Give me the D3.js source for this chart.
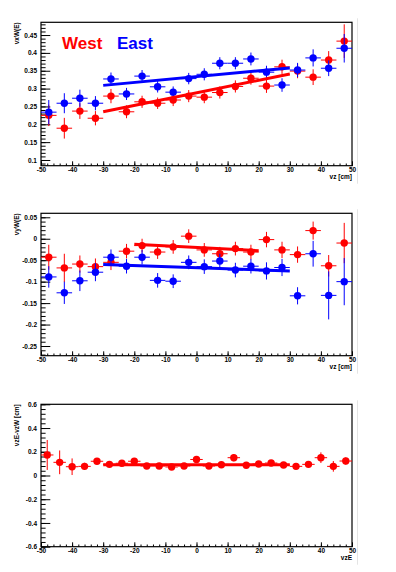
<!DOCTYPE html>
<html>
<head>
<meta charset="utf-8">
<script src="https://cdn.jsdelivr.net/npm/d3@7"></script>
<style>
  body { margin: 0; background: #fff; }
  text { font-family: 'Liberation Sans', Arial, Helvetica, sans-serif; }
</style>
</head>
<body>
<div id="chart"></div>
<script>
const width = 396;
const height = 572;
const left = 41, right = 352;

// bin centres (cm)
const vzBins = [-47.5, -42.5, -37.5, -32.5, -27.5, -22.5, -17.5, -12.5, -7.5, -2.5,
                2.5, 7.5, 12.5, 17.5, 22.5, 27.5, 32.5, 37.5, 42.5, 47.5];
const vzeBins = [-48, -44, -40, -36, -32, -28, -24, -20, -16, -12, -8, -4, 0,
                 4, 8, 12, 16, 20, 24, 28, 32, 36, 40, 44, 48];

// panel 1 : vx
const westVx = [0.225, 0.189, 0.237, 0.217, 0.279, 0.235, 0.263, 0.259, 0.268, 0.279,
                0.276, 0.289, 0.306, 0.329, 0.307, 0.361, 0.349, 0.332, 0.380, 0.433];
const westVxErr = [0.030, 0.029, 0.022, 0.020, 0.020, 0.018, 0.017, 0.016, 0.017, 0.017,
                   0.017, 0.017, 0.017, 0.018, 0.019, 0.020, 0.020, 0.022, 0.025, 0.047];
const eastVx = [0.234, 0.259, 0.273, 0.259, 0.327, 0.285, 0.335, 0.305, 0.290, 0.328,
                0.340, 0.371, 0.371, 0.383, 0.346, 0.310, 0.352, 0.386, 0.357, 0.413];
const eastVxErr = [0.034, 0.028, 0.024, 0.020, 0.018, 0.017, 0.017, 0.016, 0.016, 0.016,
                   0.017, 0.017, 0.017, 0.018, 0.018, 0.019, 0.020, 0.024, 0.022, 0.040];
const westVxFit = [[-30, 0.235], [30, 0.341]];
const eastVxFit = [[-30, 0.309], [30, 0.358]];

// panel 2 : vy
const westVy = [-0.043, -0.068, -0.059, -0.065, -0.055, -0.029, -0.016, -0.031, -0.019, 0.006,
                -0.026, -0.035, -0.023, -0.031, -0.002, -0.026, -0.037, 0.019, -0.063, -0.010];
const westVyErr = [0.029, 0.033, 0.020, 0.019, 0.018, 0.017, 0.016, 0.016, 0.016, 0.016,
                   0.016, 0.016, 0.016, 0.017, 0.018, 0.019, 0.019, 0.021, 0.025, 0.047];
const eastVy = [-0.089, -0.126, -0.098, -0.078, -0.043, -0.064, -0.043, -0.097, -0.099, -0.055,
                -0.065, -0.052, -0.073, -0.064, -0.075, -0.067, -0.133, -0.035, -0.132, -0.100];
const eastVyErr = [0.025, 0.026, 0.024, 0.021, 0.018, 0.017, 0.017, 0.017, 0.016, 0.016,
                   0.017, 0.017, 0.017, 0.017, 0.020, 0.020, 0.020, 0.030, 0.056, 0.055];
const westVyFit = [[-20, -0.013], [20, -0.028]];
const eastVyFit = [[-30, -0.060], [30, -0.075]];

// panel 3 : vzE - vzW
const dVz = [0.173, 0.111, 0.074, 0.077, 0.120, 0.094, 0.103, 0.120, 0.080, 0.080, 0.072, 0.080, 0.135,
             0.080, 0.091, 0.150, 0.086, 0.097, 0.105, 0.088, 0.077, 0.094, 0.150, 0.077, 0.122];
const dVzErr = [0.126, 0.100, 0.070, 0.030, 0.025, 0.022, 0.022, 0.022, 0.020, 0.020, 0.020, 0.020, 0.022,
                0.020, 0.020, 0.030, 0.020, 0.020, 0.022, 0.022, 0.024, 0.026, 0.045, 0.045, 0.030];
const dVzFit = [[-30, 0.091], [30, 0.091]];

const xTicks = [-50, -40, -30, -20, -10, 0, 10, 20, 30, 40, 50];
const vxTicks = [0.1, 0.15, 0.2, 0.25, 0.3, 0.35, 0.4, 0.45];
const vyTicks = [-0.25, -0.2, -0.15, -0.1, -0.05, 0, 0.05];
const dzTicks = [-0.6, -0.4, -0.2, 0, 0.2, 0.4, 0.6];

const red = '#ff0000';
const blue = '#0000ff';

const svg = d3.select('#chart').append('svg')
    .attr('width', width)
    .attr('height', height);
svg.append('rect').attr('width', width).attr('height', height).attr('fill', '#fff');

const xScale = d3.scaleLinear().domain([-50, 50]).range([left, right]);

function drawPanel(p) {
    const yScale = d3.scaleLinear().domain(p.domain).range([p.bottom, p.top]);
    const g = svg.append('g');

    g.append('line')
        .attr('x1', 357.5).attr('x2', 357.5)
        .attr('y1', p.top - 4).attr('y2', p.bottom + 18)
        .attr('stroke', '#e4e4e4');

    // minor ticks
    g.append('g').attr('transform', `translate(0,${p.bottom})`)
        .call(d3.axisBottom(xScale).tickValues(d3.range(-50, 51, 2)).tickSize(-2.2).tickFormat(''))
        .call(a => a.select('.domain').remove());
    g.append('g').attr('transform', `translate(${left},0)`)
        .call(d3.axisLeft(yScale).tickValues(d3.range(0, p.nMinor + 1).map(i => p.domainMinor + i * p.minorStep)
                .filter(v => v >= p.domain[0] - 1e-9 && v <= p.domain[1] + 1e-9))
            .tickSize(-4.6).tickFormat(''))
        .call(a => a.select('.domain').remove());

    // major ticks + labels
    g.append('g').attr('transform', `translate(0,${p.bottom})`)
        .call(d3.axisBottom(xScale).tickValues(xTicks).tickSize(-4.4).tickSizeOuter(0).tickPadding(1.5)
            .tickFormat(d => String(d)))
        .call(a => a.select('.domain').remove())
        .call(a => a.selectAll('text').attr('font-size', '6.5px').attr('font-weight', 'bold')
            .attr('font-family', 'Liberation Sans, Arial, sans-serif').attr('fill', '#000'));
    g.append('g').attr('transform', `translate(${left},0)`)
        .call(d3.axisLeft(yScale).tickValues(p.ticks).tickSize(-9.3).tickSizeOuter(0).tickPadding(4)
            .tickFormat(d => String(d)))
        .call(a => a.select('.domain').remove())
        .call(a => a.selectAll('text').attr('font-size', '6.5px').attr('font-weight', 'bold')
            .attr('font-family', 'Liberation Sans, Arial, sans-serif').attr('fill', '#000'));
    g.selectAll('.tick line').attr('stroke', '#000');

    g.append('rect')
        .attr('x', left).attr('y', p.top)
        .attr('width', right - left).attr('height', p.bottom - p.top)
        .attr('fill', 'none').attr('stroke', '#000').attr('stroke-width', 1.2);

    g.append('text')
        .attr('x', right).attr('y', p.bottom + 13.5)
        .attr('text-anchor', 'end')
        .attr('font-size', '6.5px').attr('font-weight', 'bold')
        .text(p.xLabel);

    g.append('text')
        .attr('transform', `translate(19,${p.top}) rotate(-90)`)
        .attr('text-anchor', 'end')
        .attr('font-size', '6.5px').attr('font-weight', 'bold')
        .text(p.yLabel);

    p.series.forEach(s => {
        const pts = s.bins.map((b, i) => ({x: b, y: s.values[i], e: s.errors[i]}));
        const sg = g.append('g');
        sg.selectAll('.ex').data(pts).join('line')
            .attr('x1', d => xScale(d.x - s.halfWidth)).attr('x2', d => xScale(d.x + s.halfWidth))
            .attr('y1', d => yScale(d.y)).attr('y2', d => yScale(d.y))
            .attr('stroke', s.color).attr('stroke-width', 1);
        sg.selectAll('.ey').data(pts).join('line')
            .attr('x1', d => xScale(d.x)).attr('x2', d => xScale(d.x))
            .attr('y1', d => yScale(d.y - d.e)).attr('y2', d => yScale(d.y + d.e))
            .attr('stroke', s.color).attr('stroke-width', 1);
        sg.selectAll('circle').data(pts).join('circle')
            .attr('cx', d => xScale(d.x)).attr('cy', d => yScale(d.y))
            .attr('r', 3.7).attr('fill', s.color);
    });

    p.fits.forEach(f => {
        g.append('path')
            .datum(f.points)
            .attr('fill', 'none')
            .attr('stroke', f.color)
            .attr('stroke-width', 3)
            .attr('d', d3.line().x(d => xScale(d[0])).y(d => yScale(d[1])));
    });
}

drawPanel({
    top: 22.3, bottom: 165.7, domain: [0.084, 0.4857], ticks: vxTicks,
    domainMinor: 0.08, minorStep: 0.01, nMinor: 41,
    xLabel: 'vz [cm]', yLabel: 'vxW(E)',
    series: [
        {bins: vzBins, values: westVx, errors: westVxErr, color: red, halfWidth: 2.5},
        {bins: vzBins, values: eastVx, errors: eastVxErr, color: blue, halfWidth: 2.5}
    ],
    fits: [{points: westVxFit, color: red}, {points: eastVxFit, color: blue}]
});

drawPanel({
    top: 213.3, bottom: 355.7, domain: [-0.2726, 0.0593], ticks: vyTicks,
    domainMinor: -0.28, minorStep: 0.01, nMinor: 35,
    xLabel: 'vz [cm]', yLabel: 'vyW(E)',
    series: [
        {bins: vzBins, values: westVy, errors: westVyErr, color: red, halfWidth: 2.5},
        {bins: vzBins, values: eastVy, errors: eastVyErr, color: blue, halfWidth: 2.5}
    ],
    fits: [{points: westVyFit, color: red}, {points: eastVyFit, color: blue}]
});

drawPanel({
    top: 404.3, bottom: 546.7, domain: [-0.6, 0.6], ticks: dzTicks,
    domainMinor: -0.6, minorStep: 0.04, nMinor: 30,
    xLabel: 'vzE', yLabel: 'vzE-vzW [cm]',
    series: [
        {bins: vzeBins, values: dVz, errors: dVzErr, color: red, halfWidth: 2}
    ],
    fits: [{points: dVzFit, color: red}]
});

svg.append('text')
    .attr('x', 62).attr('y', 48.5)
    .attr('font-size', '17px').attr('font-weight', 'bold')
    .attr('fill', red)
    .text('West');
svg.append('text')
    .attr('x', 117).attr('y', 48.5)
    .attr('font-size', '17px').attr('font-weight', 'bold')
    .attr('fill', blue)
    .text('East');
</script>
</body>
</html>
